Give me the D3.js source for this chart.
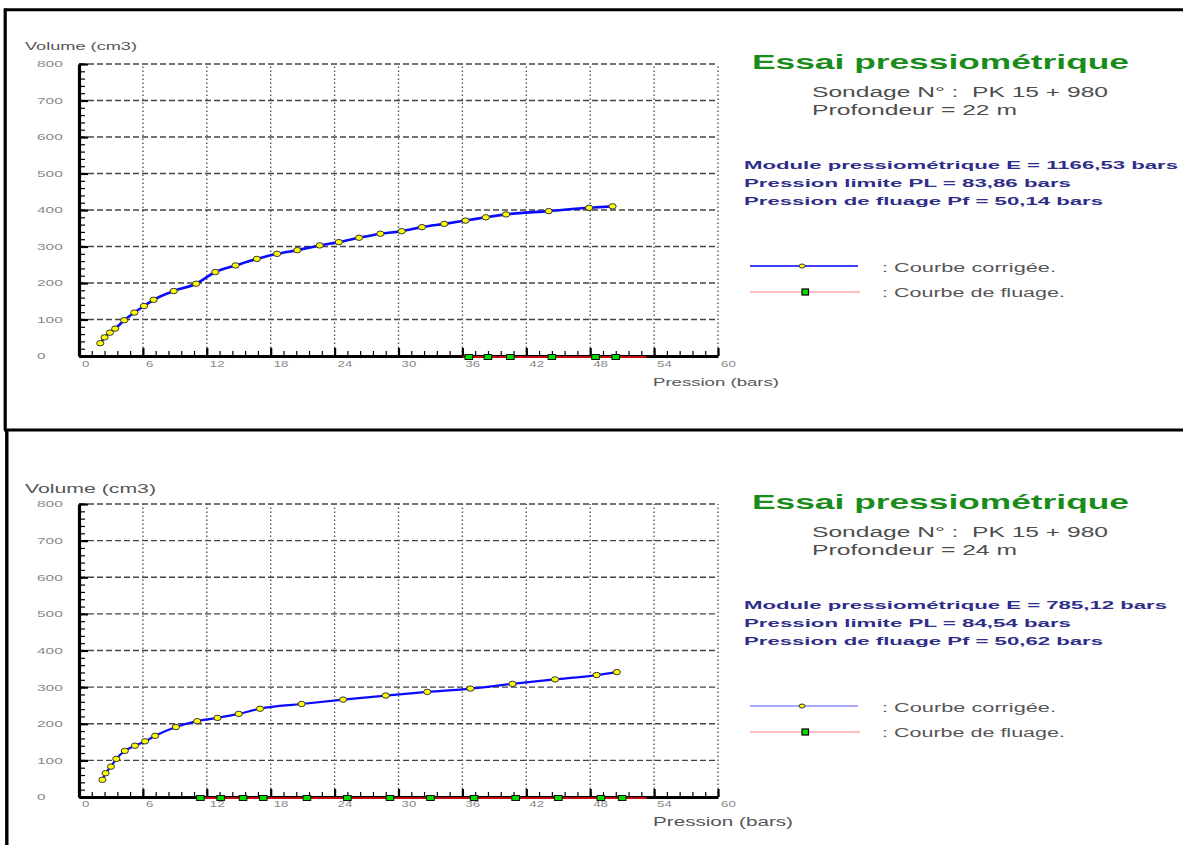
<!DOCTYPE html>
<html>
<head>
<meta charset="utf-8">
<script src="https://cdn.jsdelivr.net/npm/d3@7/dist/d3.min.js"></script>
<style>
  html, body { margin: 0; padding: 0; background: #fff; }
  svg { display: block; }
  text { font-family: "Liberation Sans", Arial, sans-serif; white-space: pre; }
</style>
</head>
<body>
<svg id="chart" width="1183" height="845"></svg>
<script>
// ---------------- DATA ----------------
const xTickValues = [0, 6, 12, 18, 24, 30, 36, 42, 48, 54, 60];
const yTickValues = [0, 100, 200, 300, 400, 500, 600, 700, 800];

// Essai 1 : profondeur 22 m
const top_pressure = [2.0, 2.4, 2.9, 3.4, 4.25, 5.2, 6.1, 7.0, 8.9, 11.0, 12.8, 14.7, 16.7, 18.6, 20.5, 22.6, 24.4, 26.3, 28.3, 30.3, 32.2, 34.3, 36.3, 38.2, 40.1, 44.1, 47.9, 50.1];
const top_volume   = [35, 51, 64, 75, 98, 119, 137, 154, 178, 198, 230, 248, 266, 280, 290, 303, 312, 324, 335, 342, 353, 362, 371, 380, 388, 397, 406, 410];
const top_fluage_pressure = [36.6, 38.4, 40.5, 44.4, 48.5, 50.4];
const top_fluage_volume   = [0, 0, 0, 0, 0, 0];
const top_fluage_range    = [36.0, 53.3];
const top_texts = {
  sondage: "Sondage N° :  PK 15 + 980",
  profondeur: "Profondeur = 22 m",
  module: "Module pressiométrique E = 1166,53 bars",
  pl: "Pression limite PL = 83,86 bars",
  pf: "Pression de fluage Pf = 50,14 bars"
};

// Essai 2 : profondeur 24 m
const bot_pressure = [2.2, 2.5, 3.0, 3.5, 4.3, 5.25, 6.2, 7.15, 9.1, 11.1, 13.0, 15.0, 17.0, 20.9, 24.8, 28.8, 32.7, 36.75, 40.7, 44.7, 48.6, 50.5];
const bot_volume   = [47, 65, 83, 104, 126, 140, 152, 167, 191, 207, 216, 227, 241, 254, 266, 277, 287, 296, 309, 321, 333, 341];
const bot_fluage_pressure = [11.4, 13.3, 15.4, 17.3, 21.4, 25.2, 29.2, 33.0, 37.1, 41.0, 45.0, 49.0, 51.0];
const bot_fluage_volume   = [0, 0, 0, 0, 0, 0, 0, 0, 0, 0, 0, 0, 0];
const bot_fluage_range    = [11.2, 53.3];
const bot_texts = {
  sondage: "Sondage N° :  PK 15 + 980",
  profondeur: "Profondeur = 24 m",
  module: "Module pressiométrique E = 785,12 bars",
  pl: "Pression limite PL = 84,54 bars",
  pf: "Pression de fluage Pf = 50,62 bars"
};

const titleText = "Essai pressiométrique";
const yAxisTitle = "Volume (cm3)";
const xAxisTitle = "Pression (bars)";
const legendCorr = ": Courbe corrigée.";
const legendFlu  = ": Courbe de fluage.";

// ---------------- DRAW ----------------
const svg = d3.select("#chart");

function txt(parent, x, y, s, size, len, fill, weight) {
  const t = parent.append("text")
    .attr("x", x).attr("y", y)
    .attr("font-size", size)
    .attr("fill", fill)
    .attr("font-weight", weight || "normal")
    .text(s);
  if (len) t.attr("textLength", len).attr("lengthAdjust", "spacingAndGlyphs");
  return t;
}

// frame
svg.append("line").attr("x1", 4).attr("x2", 1183).attr("y1", 9.7).attr("y2", 9.7)
  .attr("stroke", "#000").attr("stroke-width", 3);
svg.append("line").attr("x1", 5.2).attr("x2", 5.2).attr("y1", 8.5).attr("y2", 430)
  .attr("stroke", "#000").attr("stroke-width", 3.2);
svg.append("line").attr("x1", 6.8).attr("x2", 6.8).attr("y1", 430).attr("y2", 845)
  .attr("stroke", "#000").attr("stroke-width", 3.4);
svg.append("line").attr("x1", 4).attr("x2", 1183).attr("y1", 430).attr("y2", 430)
  .attr("stroke", "#000").attr("stroke-width", 3);

function drawChart(cfg) {
  const g = svg.append("g");
  const x = d3.scaleLinear().domain([0, 60]).range([79, 718]);
  const y = d3.scaleLinear().domain([0, 800]).range([cfg.y0, cfg.y800]);

  // grid
  const grid = g.append("g");
  grid.selectAll(".hg").data(yTickValues.filter(v => v > 0)).join("line")
    .attr("x1", x(0)).attr("x2", x(60))
    .attr("y1", d => y(d)).attr("y2", d => y(d))
    .attr("stroke", "#444").attr("stroke-width", 1.3)
    .attr("stroke-dasharray", "6,3");
  grid.selectAll(".vg").data(xTickValues.filter(v => v > 0)).join("line")
    .attr("x1", d => x(d)).attr("x2", d => x(d))
    .attr("y1", y(0)).attr("y2", y(800))
    .attr("stroke", "#555").attr("stroke-width", 1.4)
    .attr("stroke-dasharray", "1.5,2.5");

  // x axis minor ticks
  const xMinor = g.append("g").attr("transform", `translate(0,${y(0)})`)
    .call(d3.axisBottom(x).tickValues(d3.range(0, 60.001, 1.2)).tickSize(-5).tickSizeOuter(0).tickFormat(""));
  xMinor.select(".domain").remove();
  xMinor.selectAll(".tick line").attr("stroke", "#000").attr("stroke-width", 1.2);

  // x axis major
  const xAx = g.append("g").attr("transform", `translate(0,${y(0)})`)
    .call(d3.axisBottom(x).tickValues(xTickValues).tickSize(-8).tickSizeOuter(0).tickPadding(cfg.xLabelPad));
  xAx.select(".domain").attr("stroke", "#000").attr("stroke-width", 3);
  xAx.selectAll(".tick line").attr("stroke", "#000").attr("stroke-width", 2.2);
  xAx.selectAll(".tick text")
    .attr("font-size", 9).attr("fill", "#8a8a8a")
    .attr("text-anchor", "start").attr("dx", 2.5)
    .attr("dy", "0.71em")
    .attr("font-family", "Liberation Sans, Arial, sans-serif")
    .attr("textLength", d => String(d).length * 7.4)
    .attr("lengthAdjust", "spacingAndGlyphs");

  // y axis minor ticks
  const yMinor = g.append("g").attr("transform", `translate(${x(0)},0)`)
    .call(d3.axisLeft(y).tickValues(d3.range(0, 800.001, 20)).tickSize(-6).tickSizeOuter(0).tickFormat(""));
  yMinor.select(".domain").remove();
  yMinor.selectAll(".tick line").attr("stroke", "#000").attr("stroke-width", 1.2);

  // y axis major
  const yAx = g.append("g").attr("transform", `translate(${x(0)},0)`)
    .call(d3.axisLeft(y).tickValues(yTickValues).tickSize(-9).tickSizeOuter(0));
  yAx.select(".domain").attr("stroke", "#000").attr("stroke-width", 3.2);
  yAx.selectAll(".tick line").attr("stroke", "#000").attr("stroke-width", 2.2);
  yAx.selectAll(".tick text")
    .attr("font-size", 9).attr("fill", "#8a8a8a")
    .attr("text-anchor", "start").attr("x", -42)
    .attr("font-family", "Liberation Sans, Arial, sans-serif")
    .attr("textLength", d => String(d).length * 8.6)
    .attr("lengthAdjust", "spacingAndGlyphs");

  // fluage curve (red) along the axis
  g.append("line")
    .attr("x1", x(cfg.fluRange[0])).attr("x2", x(cfg.fluRange[1]))
    .attr("y1", y(0) + 1).attr("y2", y(0) + 1)
    .attr("stroke", "#ff1010").attr("stroke-width", 1.6);
  g.selectAll(".flu").data(cfg.fluP.map((p, i) => [p, cfg.fluV[i]])).join("rect")
    .attr("x", d => x(d[0]) - 3.8).attr("y", d => y(d[1]) - 1.5)
    .attr("width", 7.6).attr("height", 5)
    .attr("fill", "#00dd00").attr("stroke", "#111").attr("stroke-width", 1);

  // corrected curve (blue)
  const pts = cfg.P.map((p, i) => [p, cfg.V[i]]);
  g.append("path").datum(pts)
    .attr("fill", "none").attr("stroke", "#0a0aff").attr("stroke-width", cfg.lineW)
    .attr("d", d3.line().x(d => x(d[0])).y(d => y(d[1])).curve(d3.curveMonotoneX));
  g.selectAll(".pt").data(pts).join("ellipse")
    .attr("cx", d => x(d[0])).attr("cy", d => y(d[1]))
    .attr("rx", 3.6).attr("ry", 2.7)
    .attr("fill", "#ffff00").attr("stroke", "#333").attr("stroke-width", 1);

  // axis titles
  txt(g, 25, cfg.volY, yAxisTitle, cfg.volSize, cfg.volLen, "#555");
  txt(g, 653, cfg.presY, xAxisTitle, cfg.presSize, cfg.presLen, "#555");

  // right text block
  const o = cfg.dy;
  txt(g, 752, 69 + o, titleText, 21, 377, "#1a8c1a", "bold");
  txt(g, 812, 97 + o, cfg.texts.sondage, 14, 296, "#4d4d4d");
  txt(g, 812, 114.5 + o, cfg.texts.profondeur, 14, 205, "#4d4d4d");
  txt(g, 744, 168.5 + o, cfg.texts.module, 11.5, cfg.moduleLen, "#2e2e88", "bold");
  txt(g, 744, 187 + o, cfg.texts.pl, 11.5, 327, "#2e2e88", "bold");
  txt(g, 744, 205 + o, cfg.texts.pf, 11.5, 359, "#2e2e88", "bold");

  // legend
  g.append("line").attr("x1", 750).attr("x2", 858).attr("y1", 266 + o).attr("y2", 266 + o)
    .attr("stroke", cfg.legBlue).attr("stroke-width", cfg.legBlueW);
  g.append("ellipse").attr("cx", 802).attr("cy", 266 + o).attr("rx", 3).attr("ry", 2)
    .attr("fill", "#ffff00").attr("stroke", "#333").attr("stroke-width", 1);
  txt(g, 882, 272 + o, legendCorr, 12, 174, "#555");
  g.append("line").attr("x1", 750).attr("x2", 860).attr("y1", 292 + o).attr("y2", 292 + o)
    .attr("stroke", "#ff8080").attr("stroke-width", 1.2);
  g.append("rect").attr("x", 802).attr("y", 289 + o).attr("width", 6.5).attr("height", 6)
    .attr("fill", "#00dd00").attr("stroke", "#000").attr("stroke-width", 1.2);
  txt(g, 882, 297 + o, legendFlu, 12, 183, "#555");
}

drawChart({
  y0: 356, y800: 64, dy: 0,
  P: top_pressure, V: top_volume,
  fluP: top_fluage_pressure, fluV: top_fluage_volume, fluRange: top_fluage_range,
  texts: top_texts, moduleLen: 434,
  lineW: 2.6, legBlue: "#0000ff", legBlueW: 1.6,
  volY: 50, volSize: 11.5, volLen: 112,
  presY: 386, presSize: 10.5, presLen: 126, xLabelPad: 5
});
drawChart({
  y0: 797, y800: 504, dy: 440,
  P: bot_pressure, V: bot_volume,
  fluP: bot_fluage_pressure, fluV: bot_fluage_volume, fluRange: bot_fluage_range,
  texts: bot_texts, moduleLen: 423,
  lineW: 2.2, legBlue: "#5555ff", legBlueW: 1.1,
  volY: 493, volSize: 13, volLen: 131,
  presY: 826, presSize: 12.5, presLen: 140, xLabelPad: 4
});
</script>
</body>
</html>
